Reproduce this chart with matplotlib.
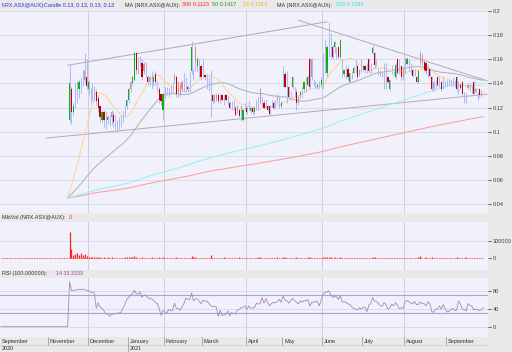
import matplotlib
matplotlib.use("Agg")
import matplotlib.pyplot as plt
import numpy as np
import pandas as pd

# ASX trading calendar for the plotted span
HOLIDAYS = ["2020-12-25", "2020-12-28", "2021-01-01", "2021-01-26",
            "2021-04-02", "2021-04-05", "2021-04-26", "2021-06-14"]
dates = pd.bdate_range("2020-09-28", "2021-09-30", freq="C", holidays=HOLIDAYS)
LISTING = "2020-11-17"
SEED_PRICE = 0.045  # flat price the indicators see before the listing

# daily candles (open, high, low, close) in 1/1000 AUD
nov = [(110, 155, 108, 140), (135, 137, 106, 116), (116, 124, 114, 121), (128, 140, 120, 128), (130, 142, 124, 130),
       (135, 144, 128, 141), (140, 145, 132, 140), (143, 152, 138, 143), (150, 165, 140, 143), (145, 160, 135, 138)]
dec = [(135, 143, 130, 141), (132, 136, 124, 132), (136, 140, 126, 136), (130, 138, 125, 130), (133, 135, 122, 125),
       (128, 130, 116, 120), (121, 122, 108, 112), (110, 118, 108, 116), (116, 118, 104, 110), (114, 116, 102, 114),
       (110, 114, 106, 112), (108, 114, 105, 108), (116, 118, 106, 112), (114, 116, 104, 108), (112, 114, 102, 112),
       (106, 110, 100, 106), (110, 112, 102, 110), (108, 114, 104, 108), (114, 117, 108, 114), (118, 122, 112, 118),
       (121, 127, 119, 126)]
jan = [(126, 136, 124, 135), (141, 142, 133, 135), (140, 146, 139, 145), (143, 166, 142, 165), (165, 166, 148, 151),
       (156, 162, 148, 156), (160, 163, 154, 160), (157, 160, 143, 145), (156, 158, 148, 150), (152, 158, 145, 152),
       (145, 147, 139, 141), (145, 146, 138, 141), (142, 150, 135, 142), (141, 146, 138, 145), (148, 150, 139, 141),
       (138, 142, 133, 138), (135, 137, 124, 126), (131, 132, 122, 125), (118, 132, 110, 131)]
feb = [(133, 137, 128, 133), (134, 137, 130, 134), (133, 136, 129, 133), (136, 139, 131, 136), (138, 141, 132, 138),
       (147, 149, 140, 143), (145, 147, 129, 131), (141, 142, 129, 131), (139, 140, 129, 131), (141, 143, 133, 135),
       (140, 149, 133, 140), (138, 145, 133, 138), (137, 139, 133, 135), (140, 150, 133, 140), (150, 175, 148, 170),
       (148, 152, 143, 148), (170, 172, 150, 157), (154, 162, 150, 160), (152, 160, 145, 152), (154, 156, 143, 145)]
mar = [(150, 160, 146, 150), (147, 148, 143, 145), (146, 148, 135, 146), (140, 145, 134, 140), (133, 151, 112, 133),
       (130, 131, 124, 125), (130, 131, 124, 125), (130, 131, 125, 126), (130, 131, 124, 125), (130, 131, 124, 130),
       (130, 131, 125, 126), (130, 131, 122, 130), (130, 131, 125, 126), (129, 130, 122, 129), (124, 125, 119, 120),
       (124, 125, 118, 124), (122, 126, 118, 122), (120, 121, 113, 114), (121, 122, 115, 118), (118, 119, 112, 113),
       (121, 122, 109, 116), (110, 119, 109, 118), (121, 124, 118, 121)]
apr = [(120, 121, 115, 116), (121, 125, 118, 121), (117, 121, 115, 120), (120, 121, 115, 116), (116, 121, 114, 120),
       (122, 126, 118, 122), (124, 129, 118, 124), (135, 136, 123, 124), (126, 129, 121, 126), (124, 126, 119, 120),
       (124, 126, 120, 124), (121, 122, 117, 118), (121, 122, 113, 115), (123, 126, 120, 123), (124, 125, 119, 120),
       (124, 126, 120, 124), (129, 131, 124, 126), (126, 130, 120, 126), (121, 125, 120, 124)]
may = [(145, 154, 137, 145), (148, 150, 136, 137), (135, 150, 124, 135), (137, 138, 128, 129), (131, 134, 126, 131),
       (137, 146, 135, 145), (132, 137, 129, 132), (133, 135, 118, 124), (129, 130, 122, 124), (130, 134, 127, 133),
       (132, 137, 129, 132), (135, 142, 133, 141), (140, 145, 133, 140), (139, 147, 138, 145), (160, 162, 135, 137),
       (160, 161, 143, 145), (142, 144, 138, 142), (140, 142, 136, 140), (137, 140, 135, 139), (140, 142, 135, 140),
       (139, 145, 137, 143)]
jun = [(150, 165, 135, 150), (160, 176, 149, 160), (149, 172, 145, 170), (175, 191, 162, 175), (170, 182, 160, 170),
       (170, 172, 160, 162), (170, 175, 165, 174), (165, 170, 160, 165), (170, 171, 160, 162), (162, 177, 160, 176),
       (152, 160, 145, 152), (148, 152, 145, 151), (150, 155, 144, 150), (152, 154, 143, 145), (141, 149, 140, 149),
       (147, 150, 144, 147), (149, 154, 148, 153), (154, 160, 149, 154), (154, 155, 144, 145), (151, 152, 146, 147),
       (155, 160, 149, 155)]
jul = [(151, 155, 150, 154), (154, 155, 149, 151), (153, 157, 149, 153), (160, 161, 149, 150), (153, 157, 149, 153),
       (165, 172, 164, 169), (165, 166, 153, 155), (157, 160, 154, 157), (150, 153, 147, 150), (148, 151, 146, 148),
       (147, 150, 145, 147), (150, 157, 135, 150), (145, 157, 135, 145), (145, 146, 140, 141), (135, 144, 134, 143),
       (151, 155, 148, 151), (148, 150, 146, 148), (145, 157, 144, 155), (160, 161, 148, 149), (155, 160, 148, 155),
       (154, 155, 143, 145), (152, 154, 143, 145)]
aug = [(158, 162, 148, 158), (156, 162, 155, 160), (155, 160, 150, 155), (154, 157, 148, 154), (151, 152, 145, 146),
       (150, 152, 146, 150), (145, 146, 140, 141), (141, 151, 140, 150), (165, 167, 155, 157), (163, 165, 154, 157),
       (158, 160, 150, 151), (157, 158, 148, 150), (152, 156, 145, 152), (152, 153, 145, 146), (145, 146, 134, 135),
       (141, 142, 134, 135), (140, 143, 136, 140), (145, 146, 138, 139), (141, 145, 137, 141), (141, 142, 134, 135),
       (140, 145, 135, 140), (140, 142, 137, 140)]
sep = [(141, 143, 138, 141), (142, 144, 139, 142), (141, 143, 138, 141), (142, 145, 139, 142), (140, 143, 137, 140),
       (145, 146, 134, 135), (140, 142, 131, 140), (139, 140, 135, 136), (141, 142, 130, 131), (130, 133, 124, 130),
       (130, 132, 124, 130), (139, 140, 135, 136), (138, 140, 134, 138), (137, 139, 132, 137), (141, 142, 130, 131),
       (135, 136, 132, 133), (131, 133, 126, 131), (135, 136, 129, 130), (133, 134, 129, 130), (130, 130, 130, 130)]

# daily volume in thousands of shares
vol_nov = [455, 160, 57, 75, 92, 57, 92, 57, 75, 40]
vol_dec = [30, 25, 22, 18, 20, 15, 25, 12, 18, 10, 14, 12, 20, 10, 8, 6, 10, 8, 12, 15, 20]
vol_jan = [18, 25, 15, 45, 22, 12, 10, 14, 8, 10, 12, 9, 15, 10, 12, 8, 14, 10, 18]
vol_feb = [10, 8, 12, 6, 9, 10, 14, 8, 10, 6, 8, 12, 7, 10, 45, 15, 20, 10, 8, 12]
vol_mar = [9, 8, 10, 12, 55, 10, 8, 12, 6, 10, 8, 14, 6, 9, 10, 12, 8, 6, 10, 14, 9, 12, 8]
vol_apr = [10, 8, 6, 12, 9, 10, 14, 20, 8, 10, 6, 12, 8, 10, 6, 8, 14, 10, 9]
vol_may = [25, 18, 12, 10, 8, 12, 6, 14, 10, 8, 9, 12, 10, 14, 18, 12, 8, 10, 6, 9, 12]
vol_jun = [20, 28, 22, 18, 15, 12, 14, 10, 12, 20, 8, 10, 6, 9, 12, 8, 10, 6, 8, 10, 9]
vol_jul = [8, 10, 12, 9, 8, 22, 14, 6, 8, 6, 10, 12, 8, 10, 9, 8, 6, 10, 12, 8, 9, 10]
vol_aug = [12, 8, 10, 9, 8, 10, 12, 14, 40, 12, 10, 14, 8, 10, 18, 12, 8, 10, 9, 8, 6, 8]
vol_sep = [8, 10, 6, 9, 8, 14, 10, 8, 12, 10, 14, 8, 6, 9, 12, 8, 10, 9, 8, 0]

# hand-drawn trend lines: (date, price) end points
upper_line = [("2020-11-16", 0.155), ("2021-06-03", 0.191)]
lower_line = [("2020-10-30", 0.0947), ("2021-09-30", 0.131)]
down_line = [("2021-05-13", 0.1923), ("2021-09-30", 0.1422)]

ma_windows = [300, 50, 15, 200]
ma_colors = ["#ff9a9a", "#a8b4a8", "#ffd488", "#8ef2f8"]

BLUE = "#2a2ad8"
DARK = "#303030"
PANEL = "#f1f1fb"
GRID = "#d8d8e6"
FS = 4.0
FS_HEAD = 3.9

plt.rcParams["font.family"] = ["Liberation Sans", "DejaVu Sans"]

# ---- data frames -----------------------------------------------------------
start = dates.get_loc(pd.Timestamp(LISTING))
bars = pd.DataFrame(nov + dec + jan + feb + mar + apr + may + jun + jul + aug + sep,
                    columns=["o", "h", "l", "c"]) / 1000.0
bars.index = np.arange(start, start + len(bars))
volume = np.array(vol_nov + vol_dec + vol_jan + vol_feb + vol_mar + vol_apr + vol_may
                  + vol_jun + vol_jul + vol_aug + vol_sep) * 1000.0
last = bars.index[-1]

# price history as the indicators see it (seeded before listing)
calc = pd.Series(SEED_PRICE, index=np.arange(-320, last + 1), dtype=float)
calc.loc[bars.index] = bars["c"].values
mas = {w: calc.rolling(w).mean() for w in ma_windows}

delta = calc.diff()
gain = delta.clip(lower=0).rolling(14).sum()
loss = (-delta.clip(upper=0)).rolling(14).sum()
rsi = (100 * gain / (gain + loss)).fillna(0.0)

pos = lambda d: dates.searchsorted(pd.Timestamp(d))

# month boundaries
month_start = [i for i in range(len(dates)) if i == 0 or dates[i].month != dates[i - 1].month]
grid_months = [i for i in month_start if dates[i].month in (12, 2, 4, 6, 8)]

# ---- figure ----------------------------------------------------------------
W, H = 512, 352
fig = plt.figure(figsize=(W / 100, H / 100), dpi=100, facecolor="#e9e9e9")
XL = (-0.5, len(dates) - 0.5)
AXW = 488 / W


def panel(top, bottom):
    ax = fig.add_axes([0, 1 - bottom / H, AXW, (bottom - top) / H])
    ax.set_facecolor(PANEL)
    ax.set_xlim(XL)
    for s in ax.spines.values():
        s.set_visible(False)
    ax.set_xticks([])
    ax.yaxis.tick_right()
    ax.tick_params(axis="y", length=2.5, width=0.6, pad=1, labelsize=FS,
                   colors="#404040")
    for m in grid_months:
        ax.axvline(m - 0.5, color="#cfcfdc", lw=0.7, zorder=0)
    return ax


def ftext(x, y, s, color=DARK):
    fig.text(x / W, 1 - y / H, s, ha="left", va="center", fontsize=FS_HEAD, color=color)


# main price panel
ax = panel(10, 213)
ax.set_ylim(0.0326, 0.2008)
yt = [0.04, 0.06, 0.08, 0.1, 0.12, 0.14, 0.16, 0.18, 0.2]
ax.set_yticks(yt)
ax.set_yticklabels(["%g" % v for v in yt])
for v in yt:
    ax.axhline(v, color=GRID, lw=0.6, zorder=0)

for line in (upper_line, lower_line, down_line):
    ax.plot([pos(d) for d, _ in line], [p for _, p in line], color="#b8a8b0", lw=0.7, zorder=2)

x = bars.index.values
ax.vlines(x, bars["l"], bars["h"], color="#b0b6f6", lw=0.7, zorder=3)
prev = bars["c"].shift(1).fillna(bars["o"])
up = bars["c"] > bars["o"]
dn_hard = (bars["c"] < bars["o"]) & (bars["c"] < prev)
dn_soft = (bars["c"] < bars["o"]) & ~dn_hard
for mask, col in ((up, "#10b010"), (dn_hard, "#c00000"), (dn_soft, "#dc8c8c")):
    ax.bar(x[mask], (bars["c"] - bars["o"])[mask], bottom=bars["o"][mask],
           width=0.65, color=col, lw=0, zorder=4)

for w, col in zip(ma_windows, ma_colors):
    s = mas[w].loc[start - 1:last]
    ax.plot(s.index, s.values, color=col, lw=0.7, zorder=2)

# volume panel
axv = panel(222, 270)
axv.set_ylim(-203000, 630000)
axv.set_yticks([0, 300000])
axv.set_yticklabels(["0", "300000"])
axv.axhline(300000, color=GRID, lw=0.6, zorder=0)
axv.plot(np.arange(0, last + 1), np.zeros(last + 1), color="#ff5050", lw=0.6,
         ls=(0, (2, 1)))
axv.vlines(x, 0, volume, color="#ff2020", lw=0.9)

# RSI panel
axr = panel(278, 337)
axr.set_ylim(-22.9, 108.2)
axr.set_yticks([0, 40, 80])
for v in (0, 40, 80):
    axr.axhline(v, color=GRID, lw=0.6, zorder=0)
for v in (30, 70):
    axr.axhline(v, color="#a4a4d0", lw=0.8, zorder=1)
r = rsi.loc[0:last]
axr.plot(r.index, r.values, color="#a888b4", lw=0.6)

# date band
axd = fig.add_axes([0, 0, AXW, 15 / H])
axd.set_xlim(XL)
axd.set_ylim(15, 0)
axd.axis("off")
axd.axhline(7.6, color="#d0d0d0", lw=0.5)
for i in month_start:
    if dates[i] == pd.Timestamp("2020-10-01"):
        continue
    if i > 0:
        axd.plot([i - 0.5, i - 0.5], [0, 7.5], color="#909090", lw=0.5)
    axd.text(i + 0.5, 4.3, dates[i].strftime("%B"), fontsize=FS, color=DARK,
             va="center", ha="left")
    if i == 0 or dates[i].month == 1:
        if i > 0:
            axd.plot([i - 0.5, i - 0.5], [7.6, 15], color="#909090", lw=0.5)
        axd.text(i + 0.5, 11.5, str(dates[i].year), fontsize=FS, color=DARK,
                 va="center", ha="left")

# panel headers
ftext(2, 5, "NRX.ASX@AUX):", BLUE)
ftext(44, 5, "Candle 0.13, 0.13, 0.13, 0.13", BLUE)
ftext(125, 5, "MA (NRX.ASX@AUX):")
ftext(182, 5, "300 0.1123", "#ff2020")
ftext(212, 5, "50 0.1417", "#209020")
ftext(243, 5, "15 0.1313", "#f0b020")
ftext(277, 5, "MA (NRX.ASX@AUX):")
ftext(336, 5, "200 0.1293", "#20e4f0")
ftext(2, 217.5, "MktVol (NRX.ASX@AUX):")
ftext(69, 217.5, "0", "#ff3030")
ftext(2, 273.5, "RSI (100.000000):")
ftext(56, 273.5, "14 33.3333", "#a040a0")

fig.savefig("out.png", dpi=100, facecolor=fig.get_facecolor())
